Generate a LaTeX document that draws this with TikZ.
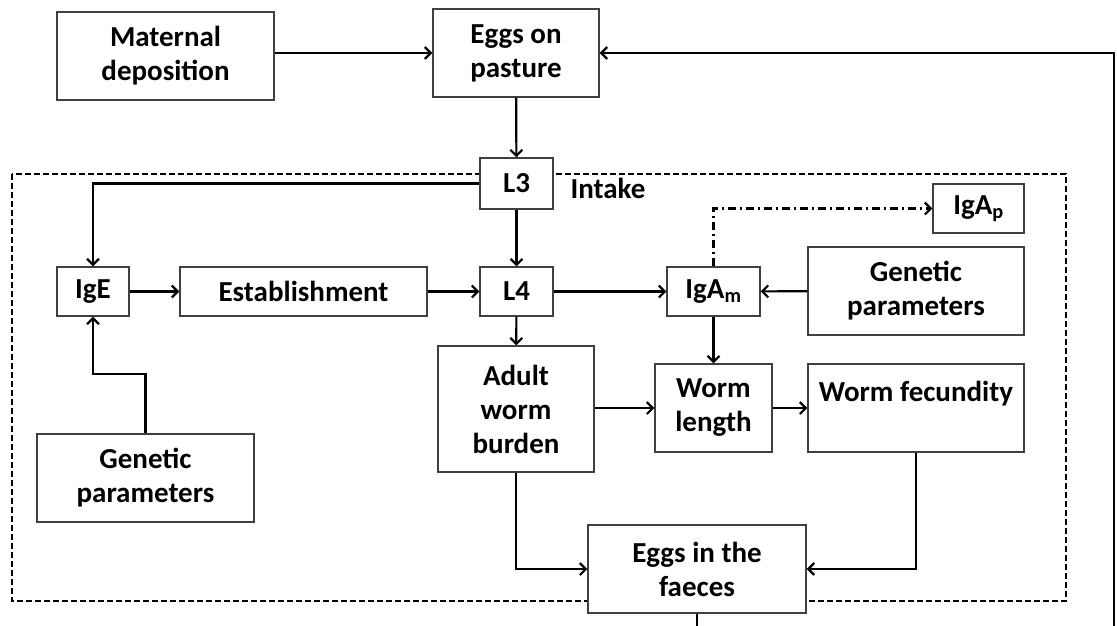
\documentclass[tikz,border=0pt]{standalone}
\usepackage{fontspec}
\setmainfont{Carlito}
\usetikzlibrary{arrows.meta,positioning}

\tikzset{
  box/.style={draw=black!75, line width=1.3pt, fill=white, align=center,
    inner sep=2pt, font=\fontsize{29}{34}\selectfont\bfseries},
  flow/.style={line width=2.2pt, -{Straight Barb[length=6pt,width=12pt]}},
}

\begin{document}
\begin{tikzpicture}[x=1pt, y=-1pt]

  \clip (0,0) rectangle (1117,625);

  \draw [line width=2pt, dash pattern=on 6pt off 3pt] (12,174) rectangle (1066,601);

  \node (mat) [box, minimum width=217pt, minimum height=88pt] at (165.5,56) {Maternal\\deposition};
  \node (pasture) [box, minimum width=166pt, minimum height=88pt] at (516,53) {Eggs on\\pasture};
  \node (L3) [box, minimum width=73pt, minimum height=51pt] at (516.5,183.5) {L3};
  \node (intake) [box, draw=none, fill=none] at (608,188) {Intake};
  \node (IgE) [box, minimum width=72pt, minimum height=49pt] at (93,291.5) {IgE};
  \node (est) [box, minimum width=247pt, minimum height=49pt] at (303.5,291.5) {Establishment};
  \node (L4) [box, minimum width=73pt, minimum height=49pt] at (516.5,291.5) {L4};
  \node (IgAm) [box, minimum width=93pt, minimum height=49pt] at (713.5,291.5) {IgA\textsubscript{m}};
  \node (IgAp) [box, minimum width=91pt, minimum height=49pt] at (978.5,208.5) {IgA\textsubscript{p}};
  \node (genR) [box, minimum width=216pt, minimum height=88pt] at (916,291) {Genetic\\parameters};
  \node (genL) [box, minimum width=217pt, minimum height=88pt] at (145.5,478) {Genetic\\parameters};
  \node (adult) [box, minimum width=156pt, minimum height=126pt] at (516,409) {Adult\\worm\\burden};
  \node (length) [box, minimum width=117pt, minimum height=88pt] at (713.5,408) {Worm\\length};
  \node (fec) [box, minimum width=216pt, minimum height=88pt] at (916,408) {Worm fecundity\\\mbox{}};
  \node (faeces) [box, minimum width=218pt, minimum height=88pt] at (697,569) {Eggs in the\\faeces};
  \coordinate (back) at (1114,660);

  \draw [flow] (mat.east |- pasture.west) -- (pasture.west);
  \draw [flow] (pasture) -- (L3);
  \draw [flow] (L3) -- (L4);
  \draw [flow] (L3.west) -| (IgE.north);
  \draw [flow] (IgE) -- (est);
  \draw [flow] (est) -- (L4);
  \draw [flow] (L4) -- (IgAm);
  \draw [flow] (genR) -- (IgAm);
  \draw [flow] (genL.north) -- ++(0,-59) -| (IgE.south);
  \draw [flow] (L4) -- (adult);
  \draw [flow] (IgAm) -- (length);
  \draw [flow, dash pattern=on 8pt off 4pt on 2pt off 4pt] (IgAm.north) |- (IgAp.west);
  \draw [flow] (adult.east |- length.west) -- (length.west);
  \draw [flow] (length) -- (fec);
  \draw [flow] (adult.south) |- (faeces.west);
  \draw [flow] (fec.south) |- (faeces.east);
  \draw [flow] (faeces.south) |- (back) |- (pasture.east);

\end{tikzpicture}
\end{document}
